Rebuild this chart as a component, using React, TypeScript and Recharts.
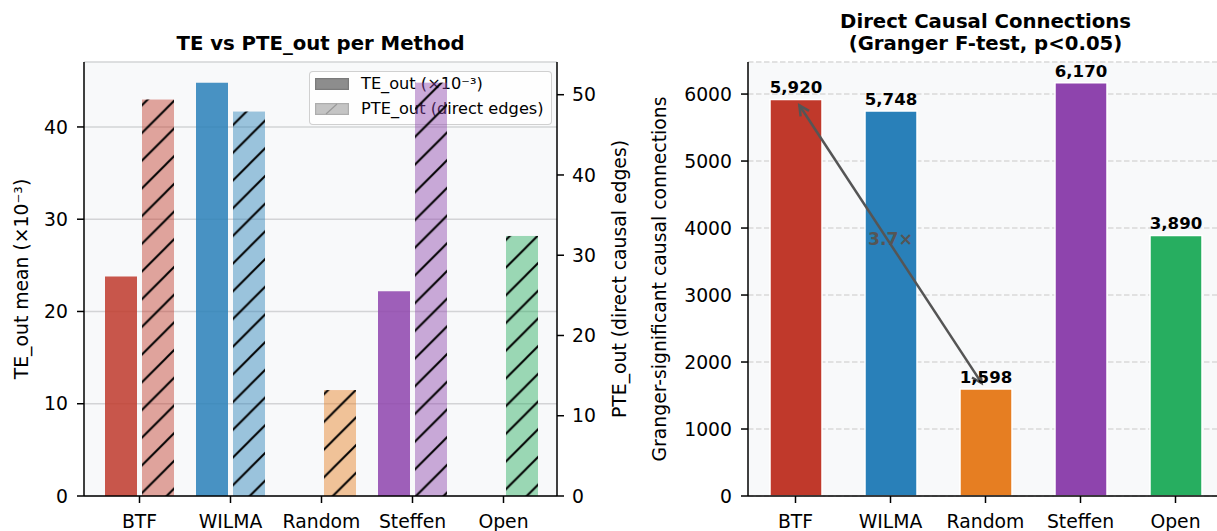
import React from 'react';
import {
  BarChart,
  Bar,
  XAxis,
  YAxis,
  CartesianGrid,
  Cell,
  LabelList,
  Legend,
  ReferenceLine,
} from 'recharts';

// ---------- data ----------
const methods = ['BTF', 'WILMA', 'Random', 'Steffen', 'Open'];
const teOutMean = [23.8, 44.8, 0, 22.2, 0];
const pteOut = [49.4, 47.9, 13.2, 51.5, 32.4];
const grangerCounts = [5920, 5748, 1598, 6170, 3890];
const methodColors = ['#c0392b', '#2980b9', '#e67e22', '#8e44ad', '#27ae60'];
const teTicks = [0, 10, 20, 30, 40];
const pteTicks = [0, 10, 20, 30, 40, 50];
const grangerTicks = [0, 1000, 2000, 3000, 4000, 5000, 6000];
const seriesNames = ['TE_out (×10⁻³)', 'PTE_out (direct edges)'];
const leftTitle = 'TE vs PTE_out per Method';
const rightTitle = ['Direct Causal Connections', '(Granger F-test, p<0.05)'];
const leftYLabel = 'TE_out mean (×10⁻³)';
const rightYLabel = 'PTE_out (direct causal edges)';
const grangerYLabel = 'Granger-significant causal connections';

const leftData = methods.map((m, i) => ({ method: m, te: teOutMean[i], pte: pteOut[i] }));
const rightData = methods.map((m, i) => ({ method: m, count: grangerCounts[i] }));

const FONT = "'DejaVu Sans', sans-serif";
const TICK = 18.8;
const BG = '#f8f9fa';

const teMax = Math.max(...teOutMean) * 1.05;
const pteMax = Math.max(...pteOut) * 1.05;
const grangerMax = Math.max(...grangerCounts) * 1.05;

const tickStyle = { fill: '#000', fontSize: TICK, fontFamily: FONT };
const axisLineStyle = { stroke: '#000', strokeWidth: 1.5 };
const tickLineStyle = { stroke: '#000', strokeWidth: 1.5 };

const verticalLabel = (x: number, text: string) => (props: any) => {
  const vb = props && props.viewBox ? props.viewBox : { y: 62, height: 434 };
  const cy = vb.y + vb.height / 2;
  return (
    <text
      x={x}
      y={cy}
      transform={`rotate(-90, ${x}, ${cy})`}
      textAnchor="middle"
      fontSize={TICK}
      fontFamily={FONT}
      fill="#000"
    >
      {text}
    </text>
  );
};

const HatchBar = (props: any) => {
  const { x, y, width, height, fill } = props;
  if (!height || height <= 0) return null;
  return (
    <g>
      <rect x={x} y={y} width={width} height={height} fill={fill} fillOpacity={0.45} />
      <rect x={x} y={y} width={width} height={height} fill="url(#hatch)" />
    </g>
  );
};

const LegendBox = () => (
  <div
    style={{
      boxSizing: 'border-box',
      width: 243,
      height: 54,
      background: 'rgba(255,255,255,0.8)',
      border: '1.4px solid rgba(200,200,200,0.85)',
      borderRadius: 4,
      position: 'relative',
      fontFamily: FONT,
      fontSize: 16.2,
      color: '#000',
    }}
  >
    {seriesNames.map((name, i) => {
      const cy = 12 + i * 25;
      return (
        <React.Fragment key={name}>
          <svg
            width={34}
            height={12}
            style={{ position: 'absolute', left: 5, top: cy - 6 }}
          >
            <rect
              x={0.6}
              y={0.6}
              width={32.8}
              height={10.8}
              fill={i === 0 ? '#8d8d8d' : '#c4c4c4'}
              stroke={i === 0 ? '#7a7a7a' : '#adadad'}
              strokeWidth={1.2}
            />
            {i === 1 && <line x1={11} y1={11} x2={22} y2={1} stroke="#999" strokeWidth={1.2} />}
          </svg>
          <div
            style={{
              position: 'absolute',
              left: 51,
              top: cy - 10,
              height: 20,
              lineHeight: '20px',
              whiteSpace: 'nowrap',
            }}
          >
            {name}
          </div>
        </React.Fragment>
      );
    })}
  </div>
);

const ArrowShape = (props: any) => {
  const { x1, y1, x2, y2 } = props;
  if ([x1, y1, x2, y2].some((v) => typeof v !== 'number' || isNaN(v))) return null;
  const dx = x2 - x1;
  const dy = y2 - y1;
  const len = Math.hypot(dx, dy) || 1;
  const ux = dx / len;
  const uy = dy / len;
  const nx = -uy;
  const ny = ux;
  const s = 7;
  const ax = x1 + ux * s;
  const ay = y1 + uy * s;
  const bx = x2 - ux * s;
  const by = y2 - uy * s;
  const hl = 10;
  const hw = 5;
  const headA = `M${ax + ux * hl + nx * hw},${ay + uy * hl + ny * hw} L${ax},${ay} L${ax + ux * hl - nx * hw},${ay + uy * hl - ny * hw}`;
  const headB = `M${bx - ux * hl + nx * hw},${by - uy * hl + ny * hw} L${bx},${by} L${bx - ux * hl - nx * hw},${by - uy * hl - ny * hw}`;
  const mx = (x1 + x2) / 2;
  const my = (y1 + y2) / 2;
  const ratio = (grangerCounts[0] / grangerCounts[2]).toFixed(1) + '×';
  return (
    <g>
      <text
        x={mx}
        y={my - 5}
        textAnchor="middle"
        dominantBaseline="central"
        fontSize={17.2}
        fontWeight="bold"
        fontFamily={FONT}
        fill="#555"
      >
        {ratio}
      </text>
      <line x1={ax} y1={ay} x2={bx} y2={by} stroke="#555" strokeWidth={2.5} />
      <path d={headA} fill="none" stroke="#555" strokeWidth={2.5} />
      <path d={headB} fill="none" stroke="#555" strokeWidth={2.5} />
    </g>
  );
};

const LeftChart = () => (
  <BarChart
    width={640}
    height={531}
    data={leftData}
    margin={{ top: 62, right: 0, bottom: 0, left: 0 }}
    barGap={5}
  >
    <defs>
      <pattern id="hatch" patternUnits="userSpaceOnUse" width={27.7} height={27.7} x={0} y={25.6}>
        <path
          d="M-6.9,6.9 L6.9,-6.9 M0,27.7 L27.7,0 M20.8,34.6 L34.6,20.8"
          stroke="#000"
          strokeWidth={2}
        />
      </pattern>
    </defs>
    <CartesianGrid yAxisId="left" vertical={false} stroke="#d3d4d6" strokeWidth={1.4} />
    <XAxis
      dataKey="method"
      height={35}
      padding={{ left: 10, right: 8 }}
      tick={tickStyle}
      tickSize={7}
      tickMargin={12}
      axisLine={axisLineStyle}
      tickLine={tickLineStyle}
      interval={0}
    />
    <XAxis
      xAxisId="top"
      dataKey="method"
      orientation="top"
      height={0}
      tick={false}
      tickLine={false}
      axisLine={axisLineStyle}
    />
    <YAxis
      yAxisId="left"
      width={84}
      domain={[0, teMax]}
      ticks={teTicks}
      interval={0}
      tick={tickStyle}
      tickSize={7}
      tickMargin={9}
      axisLine={axisLineStyle}
      tickLine={tickLineStyle}
      label={verticalLabel(28, leftYLabel)}
    />
    <YAxis
      yAxisId="right"
      orientation="right"
      width={83}
      domain={[0, pteMax]}
      ticks={pteTicks}
      interval={0}
      tick={tickStyle}
      tickSize={7}
      tickMargin={8}
      axisLine={axisLineStyle}
      tickLine={tickLineStyle}
      label={verticalLabel(626, rightYLabel)}
    />
    <Legend
      layout="vertical"
      align="center"
      verticalAlign="middle"
      wrapperStyle={{ left: 309, top: 71, width: 243, height: 54, zIndex: -1 }}
      content={LegendBox}
    />
    <Bar
      yAxisId="left"
      dataKey="te"
      name={seriesNames[0]}
      barSize={32}
      fillOpacity={0.85}
      isAnimationActive={false}
    >
      {leftData.map((d, i) => (
        <Cell key={d.method} fill={methodColors[i]} />
      ))}
    </Bar>
    <Bar
      yAxisId="right"
      dataKey="pte"
      name={seriesNames[1]}
      barSize={32}
      shape={HatchBar}
      isAnimationActive={false}
    >
      {leftData.map((d, i) => (
        <Cell key={d.method} fill={methodColors[i]} />
      ))}
    </Bar>
  </BarChart>
);

const RightChart = () => (
  <BarChart
    width={600}
    height={531}
    data={rightData}
    margin={{ top: 62, right: 17, bottom: 0, left: 0 }}
  >
    <CartesianGrid
      vertical={false}
      fill={BG}
      stroke="#d9d9d9"
      strokeWidth={1.4}
      strokeDasharray="5.5 2.5"
    />
    <XAxis
      dataKey="method"
      height={35}
      tick={tickStyle}
      tickSize={7}
      tickMargin={12}
      axisLine={axisLineStyle}
      tickLine={tickLineStyle}
      interval={0}
    />
    <YAxis
      width={108}
      domain={[0, grangerMax]}
      ticks={grangerTicks}
      interval={0}
      tick={tickStyle}
      tickSize={7}
      tickMargin={9}
      axisLine={axisLineStyle}
      tickLine={tickLineStyle}
      label={verticalLabel(26, grangerYLabel)}
    />
    <Bar
      dataKey="count"
      barSize={52}
      stroke="#fff"
      strokeWidth={1.5}
      isAnimationActive={false}
    >
      {rightData.map((d, i) => (
        <Cell key={d.method} fill={methodColors[i]} />
      ))}
      <LabelList
        dataKey="count"
        position="top"
        offset={6}
        formatter={(v: any) => Number(v).toLocaleString('en-US')}
        style={{ fontWeight: 'bold', fontSize: 16.6, fontFamily: FONT, fill: '#000' }}
      />
    </Bar>
    <ReferenceLine
      segment={[
        { x: methods[0], y: grangerCounts[0] },
        { x: methods[2], y: grangerCounts[2] },
      ]}
      shape={ArrowShape}
      ifOverflow="visible"
    />
  </BarChart>
);

export default function App() {
  return (
    <div
      style={{
        position: 'absolute',
        left: 0,
        top: 0,
        width: 1217,
        height: 531,
        overflow: 'hidden',
        background: '#fff',
        zIndex: 0,
        fontFamily: FONT,
      }}
    >
      <div
        style={{
          position: 'absolute',
          left: 84,
          top: 62,
          width: 473,
          height: 434,
          background: BG,
          zIndex: -2,
        }}
      />
      <div style={{ position: 'absolute', left: 0, top: 0 }}>
        <LeftChart />
      </div>
      <div style={{ position: 'absolute', left: 640, top: 0 }}>
        <RightChart />
      </div>
      <svg
        width={1217}
        height={60}
        style={{ position: 'absolute', left: 0, top: 0, pointerEvents: 'none' }}
      >
        <text x={320.5} y={49.5} textAnchor="middle" fontSize={19.7} fontWeight="bold" fontFamily={FONT}>
          {leftTitle}
        </text>
        <text x={985.5} y={27.5} textAnchor="middle" fontSize={19.7} fontWeight="bold" fontFamily={FONT}>
          {rightTitle[0]}
        </text>
        <text x={985.5} y={50} textAnchor="middle" fontSize={19.7} fontWeight="bold" fontFamily={FONT}>
          {rightTitle[1]}
        </text>
      </svg>
    </div>
  );
}
